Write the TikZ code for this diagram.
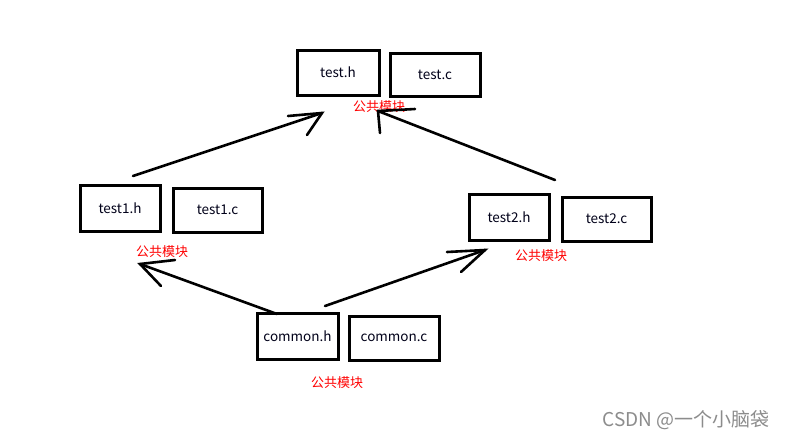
\documentclass[tikz,border=0pt]{standalone}
\usepackage{fontspec}
\setmainfont{Noto Sans CJK SC}
\begin{document}
\begin{tikzpicture}[x=1pt,y=-1pt,
  filebox/.style={draw=black,line width=3pt,inner sep=0pt,font=\fontsize{13.5}{15}\selectfont,text=black!90!blue},
  redlabel/.style={text=red,font=\fontsize{13}{14}\selectfont,inner sep=0pt},
  stroke/.style={draw=black,line width=2.6pt,line cap=round}]
\useasboundingbox (0,0) rectangle (788,440);
\fill[white] (0,0) rectangle (788,440);
% boxes
\node[filebox,minimum width=82pt,minimum height=45pt] (th) at (338,72.5) {test.h};
\node[filebox,minimum width=90pt,minimum height=43pt] (tc) at (435,74.5) {test.c};
\node[filebox,minimum width=80pt,minimum height=46pt] (t1h) at (120,208) {test1.h};
\node[filebox,minimum width=89pt,minimum height=44pt] (t1c) at (217.5,210) {test1.c};
\node[filebox,minimum width=80pt,minimum height=46pt] (t2h) at (509,217) {test2.h};
\node[filebox,minimum width=89pt,minimum height=44pt] (t2c) at (606.5,219) {test2.c};
\node[filebox,minimum width=81pt,minimum height=46pt] (ch) at (297.5,336) {common.h};
\node[filebox,minimum width=90pt,minimum height=44pt] (cc) at (394,338) {common.c};
% labels
\node[redlabel] (l0) at (379,107) {公共模块};
\node[redlabel] (l1) at (162,252) {公共模块};
\node[redlabel] (l2) at (541,256) {公共模块};
\node[redlabel] (l3) at (337,383) {公共模块};
\node[text=black!45,font=\fontsize{19}{21}\selectfont,inner sep=0pt] (wm) at (686,420) {CSDN @一个小脑袋};
% arrow ends
\coordinate (a1s) at (133,176); \coordinate (a1t) at (322,113);
\coordinate (a1b1) at (288,116); \coordinate (a1b2) at (307,135);
\coordinate (a2s) at (555,180); \coordinate (a2t) at (378,111);
\coordinate (a2b1) at (415,109); \coordinate (a2b2) at (380,133);
\coordinate (a3s) at (277,314); \coordinate (a3t) at (140,264);
\coordinate (a3b1) at (175,260); \coordinate (a3b2) at (161,286);
\coordinate (a4s) at (325,306); \coordinate (a4t) at (485,250);
\coordinate (a4b1) at (447,252); \coordinate (a4b2) at (461,272);
% arrows
\draw[stroke] (a1s) -- (a1t); \draw[stroke] (a1b1) -- (a1t) -- (a1b2);
\draw[stroke] (a2s) -- (a2t); \draw[stroke] (a2b1) -- (a2t) -- (a2b2);
\draw[stroke] (a3s) -- (a3t); \draw[stroke] (a3b1) -- (a3t) -- (a3b2);
\draw[stroke] (a4s) -- (a4t); \draw[stroke] (a4b1) -- (a4t) -- (a4b2);
\end{tikzpicture}
\end{document}
